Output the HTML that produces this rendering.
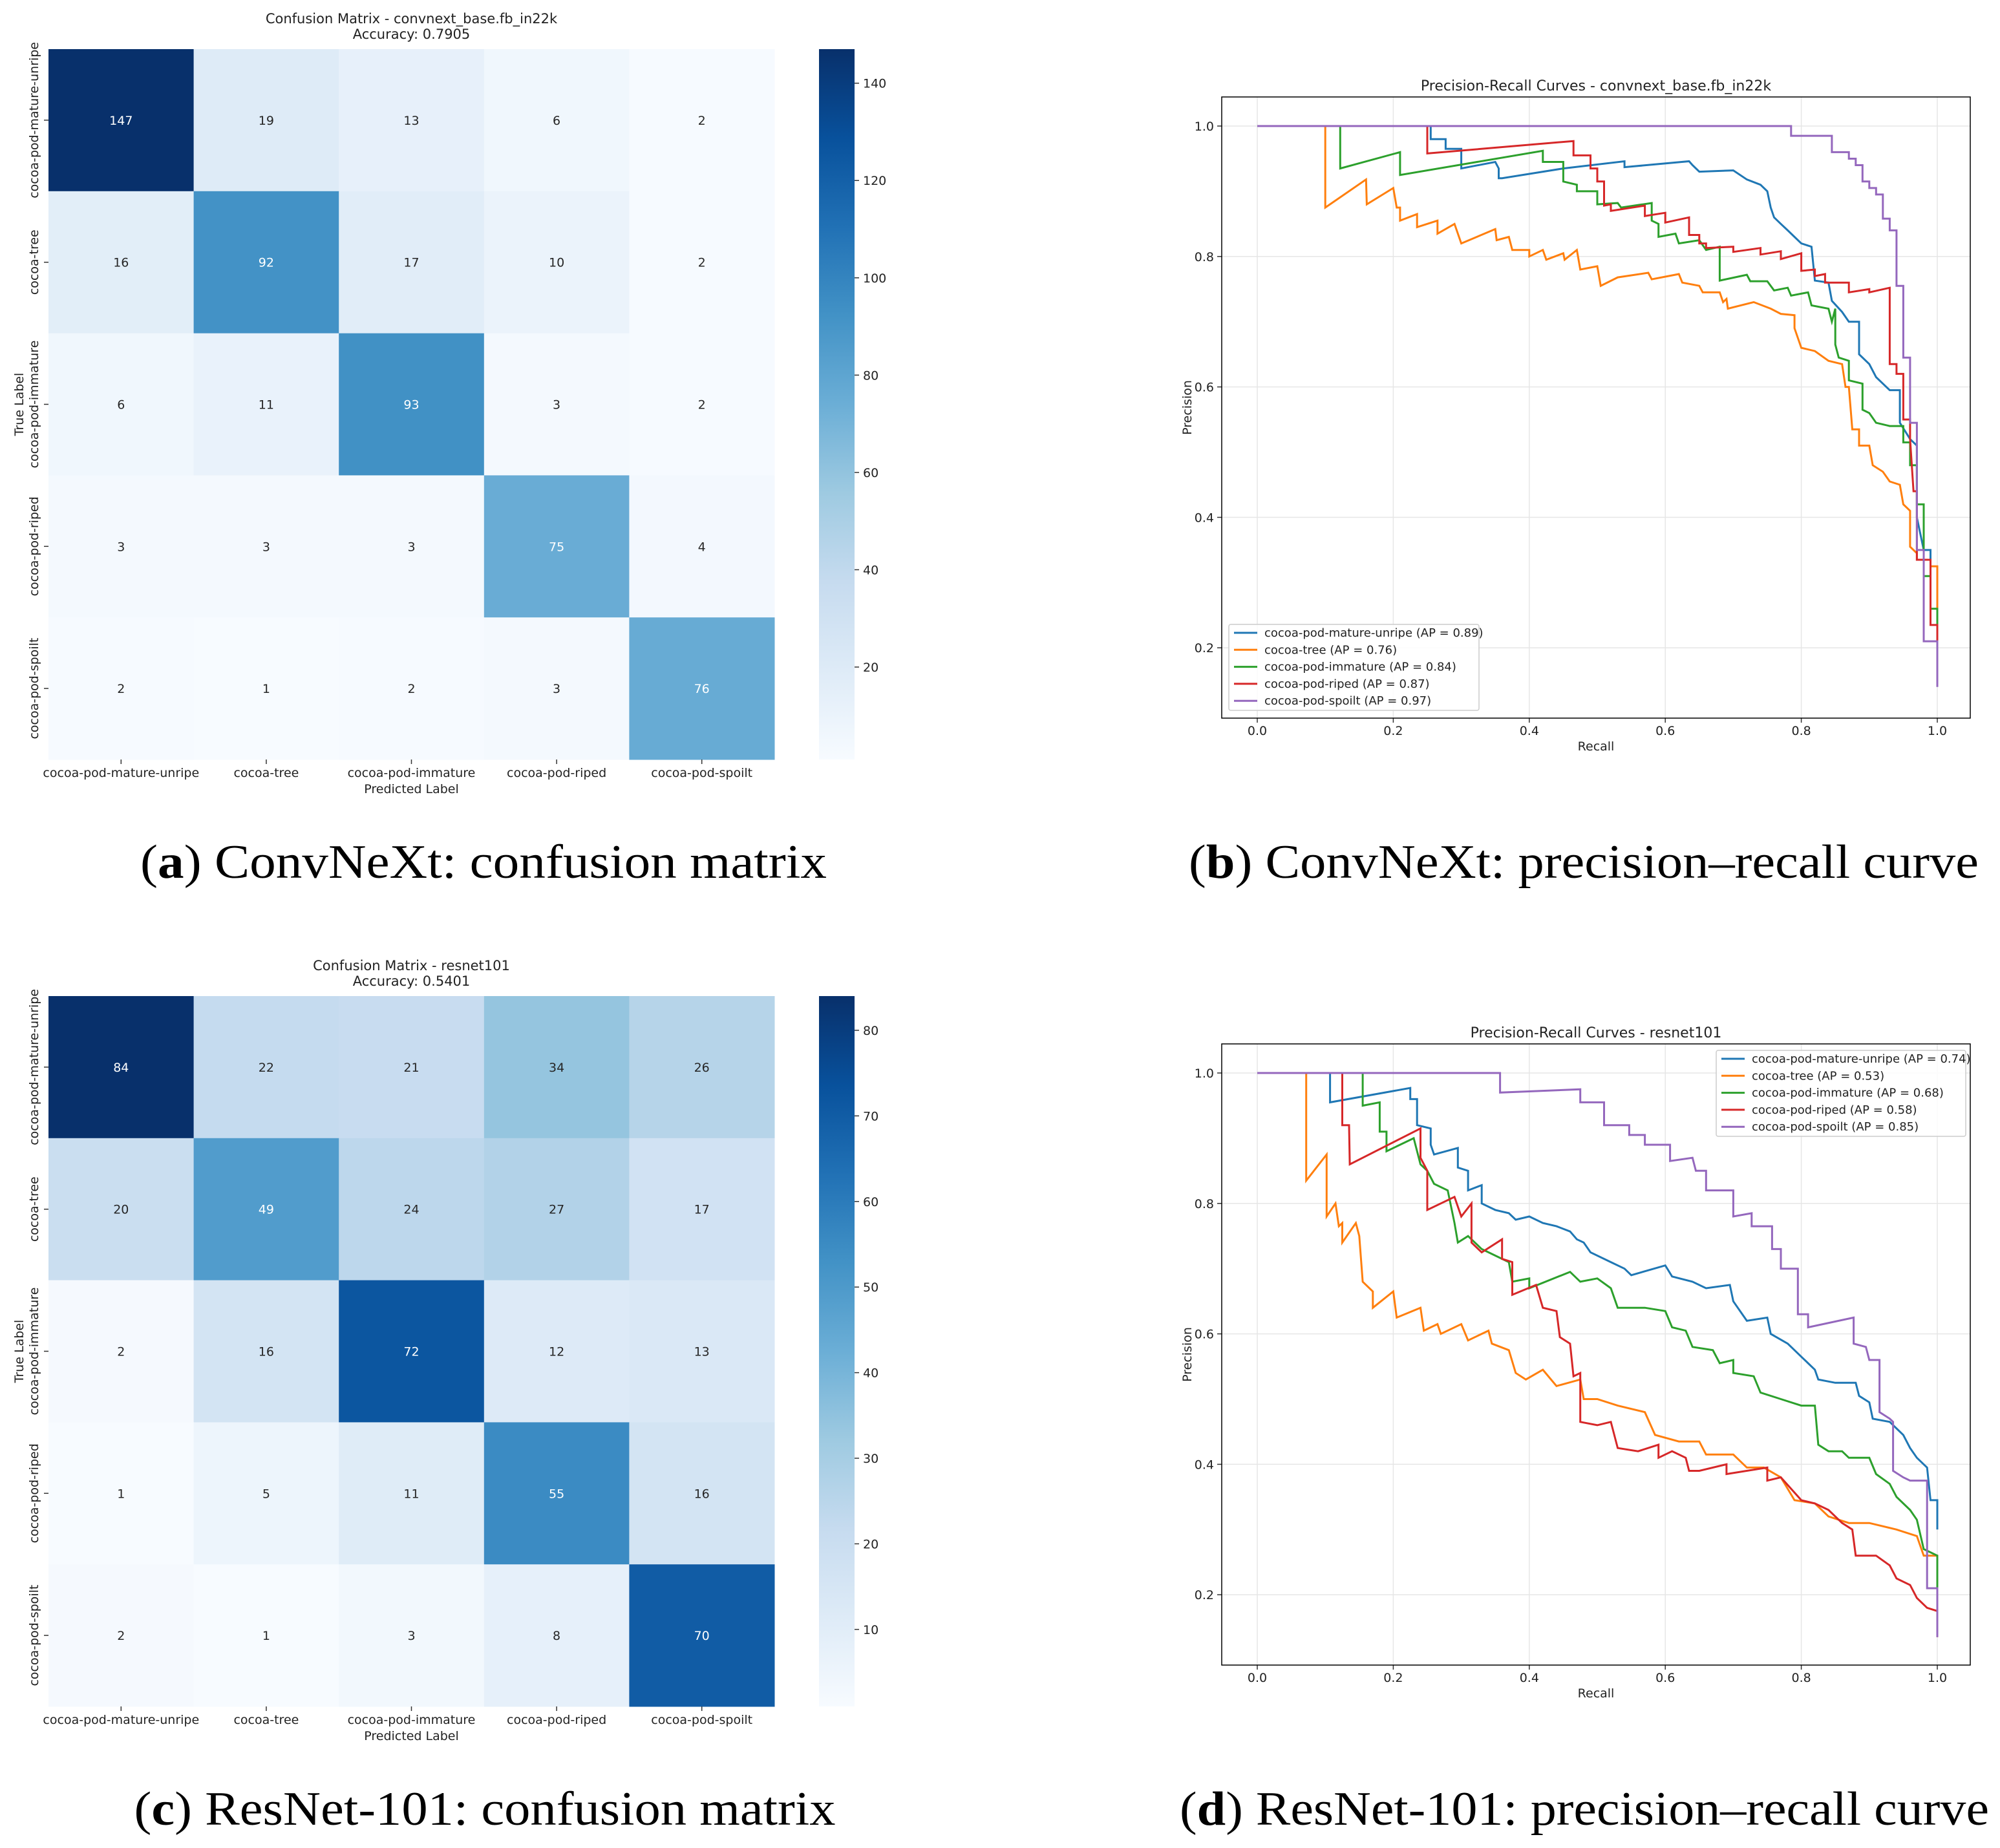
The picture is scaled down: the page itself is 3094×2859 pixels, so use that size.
<!DOCTYPE html>
<html><head><meta charset="utf-8"><style>
html,body{margin:0;padding:0;background:#fff;}
svg{display:block;}
text{font-family:"DejaVu Sans","Liberation Sans",sans-serif;fill:#222;}
.cap{font-family:"Liberation Serif",serif;fill:#000;}
</style></head><body>
<svg id="fig" width="3094" height="2859" viewBox="0 0 3094 2859" xmlns="http://www.w3.org/2000/svg">
<defs>
<linearGradient id="blues" x1="0" y1="1" x2="0" y2="0">
<stop offset="0" stop-color="#f7fbff"/><stop offset="0.125" stop-color="#deebf7"/><stop offset="0.25" stop-color="#c6dbef"/><stop offset="0.375" stop-color="#9ecae1"/><stop offset="0.5" stop-color="#6baed6"/><stop offset="0.625" stop-color="#4292c6"/><stop offset="0.75" stop-color="#2171b5"/><stop offset="0.875" stop-color="#08519c"/><stop offset="1" stop-color="#08306b"/>
</linearGradient>
</defs>
</svg>
<script>
const classes = ["cocoa-pod-mature-unripe","cocoa-tree","cocoa-pod-immature","cocoa-pod-riped","cocoa-pod-spoilt"];
const cmA = [[147,19,13,6,2],[16,92,17,10,2],[6,11,93,3,2],[3,3,3,75,4],[2,1,2,3,76]];
const cmC = [[84,22,21,34,26],[20,49,24,27,17],[2,16,72,12,13],[1,5,11,55,16],[2,1,3,8,70]];
const cbTicksA = [20,40,60,80,100,120,140];
const cbTicksC = [10,20,30,40,50,60,70,80];
const prTicks = [0,0.2,0.4,0.6,0.8,1.0];
const prYTicks = [0.2,0.4,0.6,0.8,1.0];
const colors = ["#1f77b4","#ff7f0e","#2ca02c","#d62728","#9467bd"];
const apB = ["0.89","0.76","0.84","0.87","0.97"];
const apD = ["0.74","0.53","0.68","0.58","0.85"];

// ConvNeXt PR curves (recall, precision)
const bR0=[0,0.255,0.255,0.277,0.277,0.3,0.3,0.35,0.355,0.355,0.36,0.45,0.54,0.54,0.635,0.64,0.65,0.65,0.70,0.72,0.72,0.74,0.75,0.755,0.76,0.77,0.78,0.79,0.8,0.815,0.82,0.84,0.845,0.86,0.87,0.885,0.885,0.9,0.91,0.93,0.945,0.945,0.96,0.97,0.97,0.98,0.99,0.99];
const bP0=[1,1,0.98,0.98,0.965,0.965,0.935,0.945,0.935,0.92,0.92,0.935,0.946,0.937,0.946,0.94,0.93,0.93,0.932,0.918,0.918,0.91,0.9,0.875,0.86,0.85,0.84,0.83,0.82,0.815,0.763,0.76,0.732,0.715,0.70,0.70,0.65,0.635,0.615,0.595,0.595,0.545,0.52,0.51,0.40,0.35,0.35,0.30];
const bR1=[0,0.1,0.1,0.16,0.161,0.2,0.205,0.21,0.21,0.235,0.235,0.265,0.265,0.29,0.3,0.35,0.352,0.37,0.375,0.4,0.4,0.42,0.425,0.45,0.452,0.47,0.475,0.5,0.505,0.53,0.575,0.58,0.62,0.625,0.65,0.655,0.68,0.685,0.69,0.692,0.73,0.755,0.77,0.79,0.79,0.8,0.82,0.84,0.86,0.865,0.87,0.875,0.885,0.885,0.9,0.905,0.92,0.93,0.945,0.95,0.96,0.96,0.97,0.97,0.99,0.99,1,1];
const bP1=[1,1,0.875,0.918,0.88,0.905,0.875,0.875,0.855,0.865,0.845,0.855,0.835,0.85,0.82,0.842,0.825,0.83,0.81,0.81,0.80,0.81,0.795,0.805,0.795,0.81,0.78,0.785,0.755,0.768,0.775,0.765,0.773,0.76,0.755,0.745,0.745,0.73,0.735,0.72,0.73,0.72,0.712,0.71,0.69,0.66,0.655,0.64,0.635,0.60,0.60,0.535,0.535,0.51,0.51,0.48,0.47,0.455,0.45,0.42,0.41,0.355,0.345,0.335,0.335,0.325,0.325,0.22];
const bR2=[0,0.122,0.122,0.21,0.21,0.42,0.42,0.45,0.45,0.47,0.47,0.5,0.5,0.53,0.535,0.58,0.58,0.59,0.59,0.615,0.62,0.65,0.66,0.68,0.68,0.72,0.725,0.75,0.76,0.78,0.785,0.81,0.815,0.84,0.845,0.85,0.85,0.855,0.87,0.87,0.89,0.89,0.9,0.91,0.93,0.95,0.95,0.96,0.96,0.97,0.97,0.98,0.98,0.99,0.99,1,1];
const bP2=[1,1,0.935,0.96,0.925,0.962,0.945,0.945,0.915,0.91,0.9,0.9,0.88,0.882,0.875,0.882,0.855,0.85,0.83,0.835,0.82,0.825,0.81,0.815,0.763,0.772,0.762,0.762,0.748,0.752,0.74,0.745,0.725,0.72,0.70,0.72,0.665,0.645,0.64,0.61,0.605,0.565,0.56,0.545,0.54,0.54,0.515,0.515,0.48,0.48,0.42,0.42,0.31,0.31,0.26,0.26,0.23];
const bR3=[0,0.25,0.25,0.465,0.465,0.49,0.49,0.5,0.5,0.51,0.51,0.52,0.52,0.57,0.57,0.6,0.6,0.635,0.635,0.65,0.65,0.66,0.66,0.7,0.7,0.74,0.74,0.77,0.77,0.8,0.8,0.82,0.82,0.835,0.835,0.87,0.87,0.9,0.9,0.93,0.93,0.94,0.94,0.95,0.95,0.96,0.96,0.965,0.97,0.97,0.99,0.99,1,1];
const bP3=[1,1,0.958,0.977,0.955,0.955,0.935,0.935,0.915,0.915,0.878,0.88,0.87,0.878,0.862,0.867,0.852,0.86,0.833,0.833,0.82,0.82,0.813,0.815,0.807,0.813,0.803,0.808,0.796,0.805,0.778,0.78,0.77,0.773,0.76,0.76,0.745,0.75,0.745,0.752,0.635,0.635,0.62,0.62,0.55,0.55,0.52,0.44,0.44,0.335,0.335,0.235,0.235,0.21];
const bR4=[0,0.785,0.785,0.845,0.845,0.87,0.87,0.88,0.88,0.89,0.89,0.9,0.9,0.91,0.91,0.92,0.92,0.93,0.93,0.94,0.94,0.95,0.95,0.96,0.96,0.97,0.97,0.98,0.98,1,1];
const bP4=[1,1,0.985,0.985,0.96,0.96,0.95,0.95,0.94,0.94,0.915,0.915,0.905,0.905,0.895,0.895,0.858,0.858,0.84,0.84,0.755,0.755,0.645,0.645,0.545,0.545,0.35,0.35,0.21,0.21,0.14];

// ResNet-101 PR curves
const dR0=[0,0.107,0.107,0.225,0.225,0.235,0.235,0.255,0.255,0.26,0.295,0.295,0.31,0.31,0.33,0.33,0.35,0.37,0.38,0.4,0.42,0.44,0.46,0.47,0.48,0.49,0.52,0.54,0.55,0.6,0.61,0.64,0.66,0.695,0.7,0.72,0.75,0.755,0.78,0.8,0.82,0.825,0.85,0.88,0.885,0.9,0.905,0.93,0.95,0.96,0.97,0.985,0.99,1,1];
const dP0=[1,1,0.955,0.977,0.96,0.96,0.92,0.915,0.89,0.875,0.885,0.855,0.85,0.82,0.828,0.8,0.79,0.785,0.775,0.78,0.77,0.765,0.757,0.745,0.74,0.725,0.71,0.70,0.69,0.705,0.688,0.68,0.67,0.675,0.65,0.62,0.625,0.6,0.585,0.565,0.545,0.53,0.525,0.525,0.505,0.495,0.47,0.465,0.445,0.425,0.41,0.395,0.345,0.345,0.3];
const dR1=[0,0.072,0.072,0.102,0.102,0.115,0.12,0.125,0.125,0.145,0.15,0.155,0.17,0.17,0.2,0.205,0.24,0.245,0.265,0.27,0.3,0.31,0.34,0.345,0.37,0.38,0.395,0.42,0.44,0.475,0.48,0.5,0.53,0.57,0.585,0.62,0.65,0.66,0.7,0.72,0.745,0.77,0.79,0.82,0.84,0.87,0.9,0.94,0.97,0.98,1,1];
const dP1=[1,1,0.835,0.875,0.78,0.8,0.765,0.77,0.74,0.77,0.75,0.68,0.665,0.64,0.665,0.625,0.64,0.605,0.615,0.6,0.615,0.59,0.605,0.585,0.575,0.54,0.53,0.545,0.52,0.53,0.5,0.5,0.49,0.48,0.445,0.435,0.435,0.415,0.415,0.395,0.395,0.38,0.345,0.34,0.32,0.31,0.31,0.3,0.29,0.26,0.26,0.24];
const dR2=[0,0.155,0.155,0.18,0.18,0.19,0.19,0.23,0.24,0.25,0.26,0.28,0.29,0.295,0.31,0.33,0.35,0.37,0.375,0.4,0.4,0.46,0.475,0.5,0.52,0.53,0.57,0.6,0.61,0.63,0.64,0.67,0.68,0.7,0.7,0.73,0.74,0.77,0.8,0.82,0.825,0.84,0.86,0.87,0.9,0.91,0.93,0.94,0.96,0.97,0.98,0.99,1,1];
const dP2=[1,1,0.95,0.955,0.91,0.91,0.88,0.9,0.86,0.85,0.83,0.82,0.77,0.74,0.75,0.73,0.72,0.71,0.68,0.685,0.67,0.695,0.68,0.685,0.67,0.64,0.64,0.635,0.61,0.605,0.58,0.575,0.555,0.56,0.54,0.535,0.51,0.5,0.49,0.49,0.43,0.42,0.42,0.41,0.41,0.385,0.37,0.35,0.33,0.315,0.27,0.265,0.26,0.21];
const dR3=[0,0.125,0.125,0.135,0.136,0.24,0.24,0.25,0.25,0.29,0.3,0.315,0.315,0.33,0.36,0.36,0.375,0.375,0.41,0.42,0.44,0.445,0.46,0.465,0.475,0.475,0.5,0.52,0.53,0.56,0.59,0.59,0.61,0.63,0.635,0.65,0.69,0.69,0.75,0.75,0.77,0.8,0.82,0.84,0.86,0.875,0.88,0.91,0.93,0.94,0.96,0.97,0.985,1,1];
const dP3=[1,1,0.92,0.92,0.86,0.915,0.87,0.85,0.79,0.81,0.78,0.8,0.74,0.725,0.745,0.715,0.71,0.66,0.675,0.64,0.635,0.595,0.585,0.535,0.54,0.465,0.46,0.465,0.425,0.42,0.43,0.41,0.42,0.41,0.39,0.39,0.4,0.385,0.395,0.375,0.38,0.345,0.34,0.33,0.31,0.3,0.26,0.26,0.245,0.225,0.215,0.195,0.18,0.175,0.135];
const dR4=[0,0.357,0.357,0.475,0.475,0.51,0.51,0.547,0.547,0.57,0.57,0.607,0.607,0.64,0.645,0.66,0.66,0.7,0.7,0.727,0.727,0.757,0.757,0.77,0.77,0.795,0.795,0.81,0.81,0.877,0.877,0.895,0.9,0.915,0.915,0.93,0.935,0.935,0.95,0.96,0.985,0.985,1,1];
const dP4=[1,1,0.97,0.975,0.955,0.955,0.92,0.92,0.905,0.905,0.89,0.89,0.865,0.87,0.85,0.85,0.82,0.82,0.78,0.785,0.765,0.765,0.73,0.73,0.7,0.7,0.63,0.63,0.61,0.625,0.585,0.58,0.56,0.56,0.48,0.47,0.465,0.39,0.38,0.375,0.375,0.21,0.21,0.135];

const NS="http://www.w3.org/2000/svg";
const svg=document.getElementById('fig');
function mk(tag,attrs,parent,text){const e=document.createElementNS(NS,tag);for(const k in attrs)e.setAttribute(k,attrs[k]);if(text!==undefined)e.textContent=text;(parent||svg).appendChild(e);return e;}
const stops=["#f7fbff","#deebf7","#c6dbef","#9ecae1","#6baed6","#4292c6","#2171b5","#08519c","#08306b"];
function hex(c){return [parseInt(c.slice(1,3),16),parseInt(c.slice(3,5),16),parseInt(c.slice(5,7),16)];}
function blues(t){t=Math.max(0,Math.min(1,t));const p=t*8;const i=Math.min(7,Math.floor(p));const f=p-i;const a=hex(stops[i]),b=hex(stops[i+1]);return 'rgb('+a.map((v,k)=>Math.round(v+(b[k]-v)*f)).join(',')+')';}

function confusion(cm,ticks,oy,title1,title2,name){
  const g=mk('g',{},svg);
  
  
  const L=75,R=1198,T=76+oy,B=1175+oy;const cw=(R-L)/5,ch=(B-T)/5;
  let mn=Infinity,mx=-Infinity;cm.forEach(r=>r.forEach(v=>{mn=Math.min(mn,v);mx=Math.max(mx,v);}));
  const t1=mk('text',{x:(L+R)/2,y:36+oy,'text-anchor':'middle','font-size':21},g,title1);
  
  const t2=mk('text',{x:(L+R)/2,y:60+oy,'text-anchor':'middle','font-size':21},g,title2);
  
  cm.forEach((row,i)=>row.forEach((v,j)=>{
    const n=(v-mn)/(mx-mn);
    const r=mk('rect',{x:L+j*cw,y:T+i*ch,width:cw+0.5,height:ch+0.5,fill:blues(n)},g);
    
    const t=mk('text',{x:L+(j+0.5)*cw,y:T+(i+0.5)*ch+7,'text-anchor':'middle','font-size':19,style:'fill:'+(n>0.45?'#fff':'#262626')},g,String(v));
    
  }));
  classes.forEach((c,k)=>{
    const cx=L+(k+0.5)*cw;mk('line',{x1:cx,y1:B,x2:cx,y2:B+7,stroke:'#333','stroke-width':1.5},g);
    const xt=mk('text',{x:cx,y:B+27,'text-anchor':'middle','font-size':19},g,c);
    
    const cy=T+(k+0.5)*ch;mk('line',{x1:L-7,y1:cy,x2:L,y2:cy,stroke:'#333','stroke-width':1.5},g);
    const yt=mk('text',{x:0,y:0,'text-anchor':'middle','font-size':19,transform:'translate(59,'+cy+') rotate(-90)'},g,c);
    
  });
  const xl=mk('text',{x:(L+R)/2,y:B+52,'text-anchor':'middle','font-size':19},g,'Predicted Label');
  
  const yl=mk('text',{x:0,y:0,'text-anchor':'middle','font-size':19,transform:'translate(36,'+((T+B)/2)+') rotate(-90)'},g,'True Label');
  
  const cb=mk('rect',{x:1267,y:T,width:55,height:B-T,fill:'url(#blues)'},g);
  
  ticks.forEach(v=>{const y=B-(v-mn)/(mx-mn)*(B-T);
    mk('line',{x1:1322,y1:y,x2:1329,y2:y,stroke:'#333','stroke-width':1.5},g);
    const tl=mk('text',{x:1335,y:y+7,'font-size':19},g,String(v));
    });
}

function prChart(Rs,Ps,ap,oy,title,legendRight,name){
  const g=mk('g',{},svg);
  
  
  const L=1890,R=3048,T=150+oy,B=1111+oy;
  const sx=v=>1945+v*1052, sy=v=>195+oy+(1-v)*1009;
  prTicks.forEach(v=>{mk('line',{x1:sx(v),y1:T,x2:sx(v),y2:B,stroke:'#e6e6e6','stroke-width':1.5},g);
    mk('line',{x1:sx(v),y1:B,x2:sx(v),y2:B+7,stroke:'#333','stroke-width':1.5},g);
    const t=mk('text',{x:sx(v),y:B+26,'text-anchor':'middle','font-size':19},g,v.toFixed(1));
    });
  prYTicks.forEach(v=>{mk('line',{x1:L,y1:sy(v),x2:R,y2:sy(v),stroke:'#e6e6e6','stroke-width':1.5},g);
    mk('line',{x1:L-7,y1:sy(v),x2:L,y2:sy(v),stroke:'#333','stroke-width':1.5},g);
    const t=mk('text',{x:L-12,y:sy(v)+7,'text-anchor':'end','font-size':19},g,v.toFixed(1));
    });
  Rs.forEach((r,k)=>{const pts=r.map((x,i)=>sx(x).toFixed(1)+','+sy(Ps[k][i]).toFixed(1)).join(' ');
    const pl=mk('polyline',{points:pts,fill:'none',stroke:colors[k],'stroke-width':3,'stroke-linejoin':'miter'},g);
    });
  const fr=mk('rect',{x:L,y:T,width:R-L,height:B-T,fill:'none',stroke:'#000','stroke-width':1.5},g);
  
  const tt=mk('text',{x:(L+R)/2,y:T-10,'text-anchor':'middle','font-size':22},g,title);
  
  const xl=mk('text',{x:(L+R)/2,y:B+50,'text-anchor':'middle','font-size':19},g,'Recall');
  
  const yl=mk('text',{x:0,y:0,'text-anchor':'middle','font-size':19,transform:'translate(1843,'+((T+B)/2)+') rotate(-90)'},g,'Precision');
  
  const lx=legendRight?2655:1901, ly=legendRight?T+10:966+oy, lw=legendRight?386:387;
  const lg=mk('g',{},g);
  
  mk('rect',{x:lx,y:ly,width:lw,height:133,fill:'#fff','fill-opacity':0.85,stroke:'#ccc','stroke-width':1.5,rx:3},lg);
  classes.forEach((c,k)=>{const yy=ly+13+k*26.3;
    mk('line',{x1:lx+8,y1:yy,x2:lx+44,y2:yy,stroke:colors[k],'stroke-width':3},lg);
    const e=mk('text',{x:lx+55,y:yy+6,'font-size':18},lg,c+' (AP = '+ap[k]+')');
    });
}

function caption(letter,rest,cx,y,w,name){
  const t=mk('text',{class:'cap',x:cx,y:y,'text-anchor':'middle','font-size':74,textLength:w,lengthAdjust:'spacingAndGlyphs'});
  
  mk('tspan',{},t,'(');mk('tspan',{'font-weight':'bold'},t,letter);mk('tspan',{},t,') '+rest);
}

confusion(cmA,cbTicksA,0,'Confusion Matrix - convnext_base.fb_in22k','Accuracy: 0.7905','confusion-matrix-convnext');
prChart([bR0,bR1,bR2,bR3,bR4],[bP0,bP1,bP2,bP3,bP4],apB,0,'Precision-Recall Curves - convnext_base.fb_in22k',false,'pr-curve-convnext');
confusion(cmC,cbTicksC,1465,'Confusion Matrix - resnet101','Accuracy: 0.5401','confusion-matrix-resnet');
prChart([dR0,dR1,dR2,dR3,dR4],[dP0,dP1,dP2,dP3,dP4],apD,1465,'Precision-Recall Curves - resnet101',true,'pr-curve-resnet');
caption('a','ConvNeXt: confusion matrix',748,1358,1062,'caption-a');
caption('b','ConvNeXt: precision\u2013recall curve',2450,1358,1222,'caption-b');
caption('c','ResNet-101: confusion matrix',750,2823,1085,'caption-c');
caption('d','ResNet-101: precision\u2013recall curve',2451,2823,1252,'caption-d');
</script>
</body></html>
